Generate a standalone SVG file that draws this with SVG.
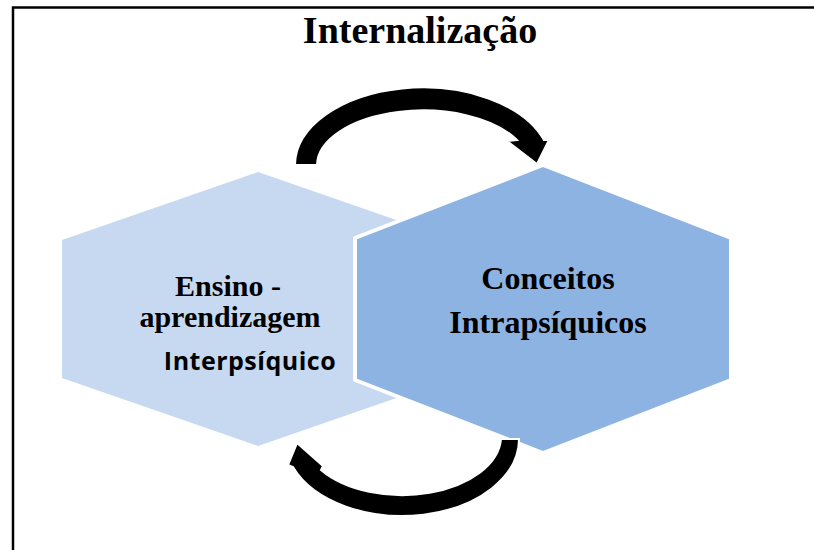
<svg xmlns="http://www.w3.org/2000/svg" width="814" height="550" viewBox="0 0 814 550">
<style>
.border{stroke:#000;stroke-width:2.5;fill:none}
.serif{font-family:"Liberation Serif","Times New Roman",serif;font-weight:bold;fill:#000;text-anchor:middle}
.sans{font-family:"Open Sans","Liberation Sans",sans-serif;font-weight:bold;fill:#000;text-anchor:middle}
.arrow{fill:#000;stroke:#fff;stroke-width:2;stroke-linejoin:miter}
</style>
<rect width="814" height="550" fill="#fff"/>
<path class="border" d="M13,550 V7.5 H814"/>
<text class="serif" x="420" y="43" font-size="38">Internalização</text>
<g id="node-ensino">
<polygon points="258,172 454,240 454,378 258,446 62,378 62,240" fill="#C6D9F1"/>
<text class="serif" x="228" y="296" font-size="30">Ensino -</text>
<text class="serif" x="230" y="327" font-size="30">aprendizagem</text>
<text class="sans" x="250" y="370" font-size="25" letter-spacing="0.5">Interpsíquico</text>
</g>
<g id="node-conceitos">
<polygon points="543,165 731,238 731,380 543,453 355,380 355,238" fill="#8DB3E2" stroke="#fff" stroke-width="4" stroke-linejoin="round"/>
<text class="serif" x="548" y="289" font-size="32">Conceitos</text>
<text class="serif" x="548" y="333" font-size="32">Intrapsíquicos</text>
</g>
<g id="connectors">
<path class="arrow" d="M295,165 A128,78 0 0 1 544,140 L549,140 L537,164 L507,141 L517,140 A106,55 0 0 0 317,165 Z"/>
<path class="arrow" d="M519,439 A117,77 0 0 1 293,467 L288,465 L297,443 L323,466 L321,470 A99,59 0 0 0 501,439 Z"/>
</g>
</svg>
